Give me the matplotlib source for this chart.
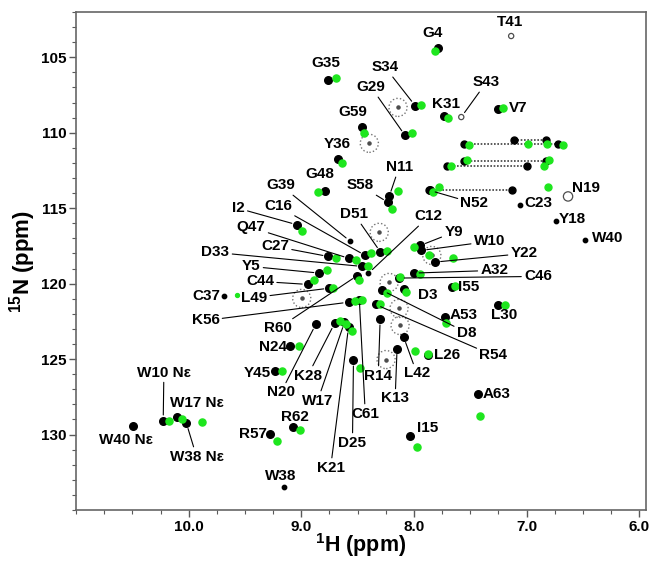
import numpy as np
import matplotlib
matplotlib.use('Agg')
import matplotlib.pyplot as plt

plt.rcParams['font.family'] = ['Liberation Sans', 'DejaVu Sans']
plt.rcParams['font.weight'] = 'bold'
plt.rcParams['mathtext.fontset'] = 'custom'
plt.rcParams['mathtext.rm'] = 'Liberation Sans:bold'
plt.rcParams['mathtext.bf'] = 'Liberation Sans:bold'
plt.rcParams['mathtext.default'] = 'bf'

# backbone amide peaks: black = reference, green = second spectrum (nan = no green peak)
residues = ['G4', 'S34', 'G29', 'K31', 'V7', 'G35', 'G59', 'Y36', 'G48', 'N11',
            'S58', 'N52', 'I2', 'C16', 'D51', 'Q47', 'C27', 'D33', 'Y5', 'C44',
            'L49', 'K56', 'C61', 'R60', 'Y9', 'W10', 'Y22', 'A32', 'C46', 'I55',
            'D3', 'D8', 'A53', 'L30', 'R54', 'L42', 'K13', 'R14', 'L26', 'A63',
            'I15', 'N20', 'K28', 'W17', 'K21', 'D25', 'N24', 'Y45', 'R62', 'R57',
            'W40 Nε', 'W10 Nε', 'W17 Nε', 'W38 Nε']
black_h = [7.79, 7.99, 8.08, 7.73, 7.254, 8.76, 8.464, 8.676, 8.793, 8.22,
           8.229, 7.859, 9.037, 8.432, 8.297, 8.575, 8.76, 8.458, 8.84, 8.943,
           8.752, 8.581, 8.485, 8.502, 7.944, 7.936, 7.812, 8.003, 8.135, 7.665,
           8.091, 8.282, 7.724, 7.254, 8.341, 8.091, 8.15, 8.30, 7.877, 7.43,
           8.033, 8.872, 8.705, 8.617, 8.581, 8.537, 9.104, 9.236, 9.075, 9.275,
           10.493, 10.226, 10.103, 10.02]
black_n = [104.4, 108.2, 110.17, 108.91, 108.4, 106.48, 109.62, 111.76, 113.87, 114.22,
           114.62, 113.82, 116.1, 118.13, 117.91, 118.33, 118.2, 118.86, 119.3, 120.05,
           120.3, 121.23, 121.05, 119.46, 117.47, 117.8, 118.57, 119.3, 119.63, 120.19,
           120.34, 120.45, 122.22, 121.4, 121.38, 123.55, 124.32, 122.37, 124.7, 127.3,
           130.07, 122.7, 122.64, 122.57, 122.9, 125.09, 124.1, 125.82, 129.52, 129.95,
           129.4, 129.07, 128.81, 129.25]
nan = np.nan
green_h = [7.81, 7.94, 8.02, 7.70, 7.21, 8.69, 8.44, 8.64, 8.855, 8.145,
           8.194, 7.83, 8.993, 8.38, 8.238, 8.516, 8.69, 8.405, 8.768, 8.884,
           8.72, 8.52, 8.458, 8.484, 8.0, 7.87, 7.656, 7.944, 8.12, 7.636,
           8.071, 8.238, 7.718, 7.195, 8.297, 7.99, nan, nan, 7.877, 7.41,
           7.974, nan, 8.66, 8.60, 8.546, 8.476, 9.022, 9.169, 9.01, 9.213,
           nan, 10.176, 10.059, 9.883]
green_n = [104.6, 108.14, 110.02, 109.04, 108.36, 106.37, 110.02, 111.98, 113.93, 113.87,
           115.04, 113.95, 116.52, 117.98, 117.84, 118.43, 118.33, 118.8, 119.08, 119.74,
           120.28, 121.18, 121.11, 119.73, 117.58, 118.13, 118.3, 119.37, 119.57, 120.13,
           120.56, 120.63, 122.62, 121.4, 121.33, 124.43, nan, nan, 124.65, 128.78,
           130.84, nan, 122.5, 122.7, 123.16, 125.56, 124.16, 125.82, 129.7, 130.4,
           nan, 129.07, 128.96, 129.18]

# weak peaks (small dots / open circles)
weak_names = ['T41', 'S43', 'N19', 'C23', 'Y18', 'W40', 'G39', 'C12', 'W38', 'C37']
weak_h = [7.137, 7.58, 6.632, 7.063, 6.737, 6.485, 8.564, 8.405, 9.154, 9.69]
weak_n = [103.59, 108.96, 114.22, 114.81, 115.88, 117.09, 117.2, 119.32, 133.49, 120.85]
weak_green_h = [9.568]
weak_green_n = [120.74]

# side-chain NH2 pairs joined by dotted lines
sc_black_h1 = [7.110, 7.559, 7.56, 7.709, 7.868]
sc_black_h2 = [6.828, 6.718, 6.83, 6.996, 7.128]
sc_black_n = [110.46, 110.77, 111.9, 112.23, 113.82]
sc_green_h1 = [6.987, 7.515, 7.525, 7.674, 7.78]
sc_green_h2 = [6.819, 6.681, 6.80, 6.846, 6.81]
sc_green_n = [110.77, 110.84, 111.83, 112.2, 113.62]

# broadened peaks marked by dotted circles
broad_h = [8.141, 8.396, 8.308, 7.841, 8.22, 8.132, 8.123, 8.247, 8.996]
broad_n = [108.32, 110.70, 116.6, 118.13, 119.92, 121.64, 122.77, 125.03, 120.98]

# label placement (ppm) and whether a leader line is drawn
label_pos = {
    'G4': (7.833, 103.41, False), 'T41': (7.145, 102.68, False), 'S34': (8.256, 105.66, True),
    'G29': (8.379, 106.99, True), 'S43': (7.357, 106.66, True), 'K31': (7.718, 108.12, False),
    'V7': (7.075, 108.38, False), 'G35': (8.784, 105.4, False), 'G59': (8.546, 108.65, False),
    'Y36': (8.678, 110.77, False), 'G48': (8.837, 112.76, False), 'N11': (8.132, 112.29, True),
    'S58': (8.476, 113.49, True), 'G39': (9.181, 113.49, True), 'I2': (9.559, 115.01, True),
    'C16': (9.207, 114.88, True), 'D51': (8.529, 115.41, True), 'Q47': (9.445, 116.27, True),
    'C27': (9.233, 117.53, True), 'D33': (9.762, 117.93, True), 'Y5': (9.445, 118.86, True),
    'C44': (9.366, 119.85, True), 'C37': (9.841, 120.85, False), 'L49': (9.419, 120.92, True),
    'K56': (9.85, 122.44, True), 'R60': (9.207, 122.97, True), 'N24': (9.251, 124.23, False),
    'Y45': (9.392, 125.89, False), 'N20': (9.181, 127.21, True), 'K28': (8.943, 126.09, True),
    'W17': (8.855, 127.75, True), 'K21': (8.74, 132.19, True), 'D25': (8.546, 130.53, True),
    'C61': (8.432, 128.61, True), 'R14': (8.317, 126.09, True), 'K13': (8.167, 127.61, True),
    'L42': (7.974, 125.95, True), 'L26': (7.709, 124.76, False), 'R54': (7.295, 124.76, True),
    'A63': (7.269, 127.28, False), 'I15': (7.877, 129.54, False), 'N52': (7.463, 114.68, True),
    'C12': (7.868, 115.54, True), 'N19': (6.476, 113.69, False), 'C23': (6.899, 114.68, False),
    'Y18': (6.59, 115.74, False), 'W40': (6.282, 117.0, False), 'Y9': (7.648, 116.6, True),
    'W10': (7.33, 117.2, True), 'Y22': (7.022, 118.0, True), 'A32': (7.286, 119.12, True),
    'C46': (6.899, 119.52, True), 'I55': (7.515, 120.25, False), 'D3': (7.877, 120.78, False),
    'D8': (7.533, 123.24, True), 'A53': (7.559, 122.11, False), 'L30': (7.198, 122.11, False),
    'R62': (9.057, 128.81, False), 'R57': (9.427, 129.93, False), 'W38': (9.181, 132.72, False),
    'W10 Nε': (10.22, 125.89, True), 'W17 Nε': (9.93, 127.94, False),
    'W38 Nε': (9.93, 131.46, True), 'W40 Nε': (10.555, 130.33, False),
}

green = '#1ee61e'

fig = plt.figure(figsize=(6.52, 5.62), dpi=100)
ax = fig.add_axes([0.1166, 0.0925, 0.8742, 0.8861])

# dotted circles for broadened peaks
ax.scatter(broad_h, broad_n, s=170, facecolors='none', edgecolors='0.45',
           linewidths=1.0, linestyles=(0, (1, 1.6)), zorder=2)
ax.scatter(broad_h, broad_n, s=5, color='0.3', zorder=2)

# side chain pairs
for h1, h2, n in zip(sc_black_h1, sc_black_h2, sc_black_n):
    ax.plot([h1, h2], [n, n], color='0.25', lw=1.2, ls=(0, (1, 1)), zorder=2)
    ax.plot([h1, h2], [n, n], 'o', color='k', ms=5, zorder=3)
for h1, h2, n in zip(sc_green_h1, sc_green_h2, sc_green_n):
    ax.plot([h1, h2], [n, n], 'o', color=green, ms=5, zorder=4)

# backbone peaks
ax.scatter(black_h, black_n, s=30, color='k', zorder=3)
ax.scatter(green_h, green_n, s=26, color=green, zorder=4)

# weak peaks
open_names = {'T41': 14, 'S43': 14, 'N19': 45}
for nm, h, n in zip(weak_names, weak_h, weak_n):
    if nm in open_names:
        ax.scatter(h, n, s=open_names[nm], facecolors='none', edgecolors='0.3',
                   linewidths=0.9, zorder=3)
    else:
        ax.scatter(h, n, s=10, color='k', zorder=3)
ax.scatter(weak_green_h, weak_green_n, s=8, color=green, zorder=4)

# labels
peak_xy = dict(zip(residues, zip(black_h, black_n)))
peak_xy.update(dict(zip(weak_names, zip(weak_h, weak_n))))
for nm, (lx, ly, leader) in label_pos.items():
    if leader:
        ax.annotate(nm, xy=peak_xy[nm], xytext=(lx, ly), ha='center', va='center',
                    fontsize=11, fontweight='bold', zorder=5,
                    arrowprops=dict(arrowstyle='-', color='k', lw=0.8,
                                    shrinkA=0, shrinkB=4))
    else:
        ax.text(lx, ly, nm, ha='center', va='center', fontsize=11,
                fontweight='bold', zorder=5)

ax.set_xlim(10.96, 5.94)
ax.set_ylim(135.0, 102.0)
ax.set_xticks([10, 9, 8, 7, 6])
ax.set_xticklabels(['10.0', '9.0', '8.0', '7.0', '6.0'])
ax.set_xticks(np.arange(6, 11.01, 0.25), minor=True)
ax.set_yticks([105, 110, 115, 120, 125, 130])
ax.set_yticks(np.arange(102, 136, 1), minor=True)
ax.tick_params(which='major', direction='out', length=5, width=1, labelsize=11,
               color='0.35', pad=2)
ax.tick_params(which='minor', direction='out', length=3, width=0.8, color='0.35')
for lab in ax.get_xticklabels() + ax.get_yticklabels():
    lab.set_fontweight('bold')
for sp in ax.spines.values():
    sp.set_color('0.4')
    sp.set_linewidth(1.2)

ax.set_xlabel('$^{1}$H (ppm)', fontsize=15.5, fontweight='bold', labelpad=-2)
ax.set_ylabel('$^{15}$N (ppm)', fontsize=16, fontweight='bold', labelpad=2)

fig.savefig('out.png', dpi=100)
